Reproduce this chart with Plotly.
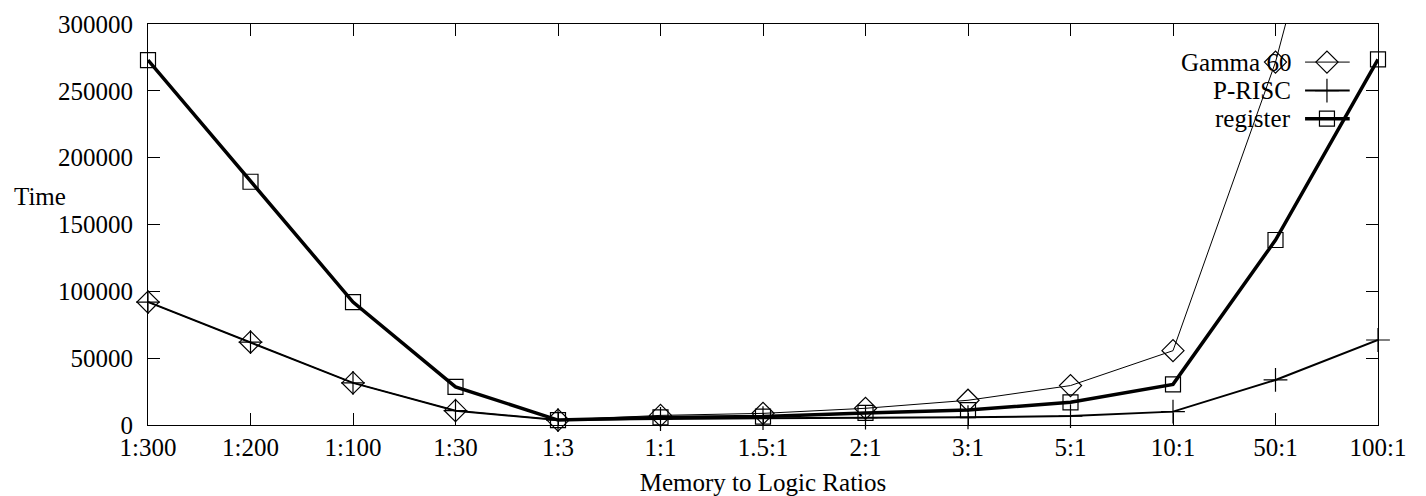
import plotly.graph_objects as go

categories = ["1:300", "1:200", "1:100", "1:30", "1:3", "1:1", "1.5:1", "2:1", "3:1", "5:1", "10:1", "50:1", "100:1"]
gamma60 = [92000, 62000, 31500, 10700, 3700, 7200, 8700, 12500, 18500, 29500, 55600, 271500, 560000]
prisc = [92000, 62000, 31500, 10700, 3700, 4500, 5200, 5500, 5800, 6700, 10000, 33700, 63600]
register = [273000, 182000, 92000, 28500, 3700, 5700, 6300, 9000, 11200, 17000, 30400, 138400, 273500]
series_names = ["Gamma 60", "P-RISC", "register"]
y_ticks = [0, 50000, 100000, 150000, 200000, 250000, 300000]

FONT = "Liberation Serif"
FS = 25

fig = go.Figure()

styles = [
    dict(name=series_names[0], y=gamma60, lw=1, sym="diamond-open", size=17),
    dict(name=series_names[1], y=prisc, lw=2, sym="cross-thin-open", size=17),
    dict(name=series_names[2], y=register, lw=3.5, sym="square-open", size=15),
]

for s in styles:
    fig.add_trace(go.Scatter(
        x=categories, y=s["y"], mode="lines+markers", name=s["name"],
        line=dict(color="black", width=s["lw"]),
        marker=dict(symbol=s["sym"], size=s["size"], color="black",
                    line=dict(color="black", width=1.2)),
        cliponaxis=False, showlegend=False,
    ))

# custom legend (text right-aligned, sample to the right) on an overlay axis
leg_y = [0.905, 0.834, 0.764]
for s, ly in zip(styles, leg_y):
    fig.add_trace(go.Scatter(
        x=[0.9407, 0.977], y=[ly, ly], mode="lines", xaxis="x2", yaxis="y2",
        line=dict(color="black", width=s["lw"]), showlegend=False, hoverinfo="skip"))
    fig.add_trace(go.Scatter(
        x=[0.9585], y=[ly], mode="markers", xaxis="x2", yaxis="y2",
        marker=dict(symbol=s["sym"], size=s["size"], color="black",
                    line=dict(color="black", width=1.2)),
        showlegend=False, hoverinfo="skip", cliponaxis=False))
    fig.add_annotation(xref="x2", yref="y2", x=0.931, y=ly, text=s["name"],
                       showarrow=False, xanchor="right", yanchor="middle",
                       font=dict(family=FONT, size=FS, color="black"))

fig.add_annotation(xref="paper", yref="paper", x=0, y=0.569, xshift=-80,
                   text="Time", showarrow=False, xanchor="right", yanchor="middle",
                   font=dict(family=FONT, size=FS, color="black"))

# page body has an 8px default margin, so the figure is sized/offset for it
fig.update_layout(
    width=1418, height=488,
    margin=dict(l=140, r=48, t=16, b=71),
    plot_bgcolor="white", paper_bgcolor="white",
    font=dict(family=FONT, size=FS, color="black"),
    xaxis=dict(
        type="category", categoryorder="array", categoryarray=categories,
        range=[0, len(categories) - 1], automargin=False,
        showline=True, linecolor="black", linewidth=1, mirror="ticks",
        ticks="inside", ticklen=12, tickcolor="black", tickwidth=1,
        showgrid=False, zeroline=False,
        title=dict(text="Memory to Logic Ratios", standoff=14,
                   font=dict(family=FONT, size=FS)),
        tickfont=dict(family=FONT, size=FS),
        ticklabelstandoff=0,
    ),
    yaxis=dict(
        range=[0, 300000], tickvals=y_ticks, ticktext=[str(v) for v in y_ticks],
        automargin=False,
        showline=True, linecolor="black", linewidth=1, mirror="ticks",
        ticks="inside", ticklen=12, tickcolor="black", tickwidth=1,
        showgrid=False, zeroline=False,
        tickfont=dict(family=FONT, size=FS),
        ticklabelstandoff=9,
    ),
    xaxis2=dict(overlaying="x", range=[0, 1], visible=False, fixedrange=True),
    yaxis2=dict(overlaying="y", range=[0, 1], visible=False, fixedrange=True),
)

fig.write_html("out.html")
